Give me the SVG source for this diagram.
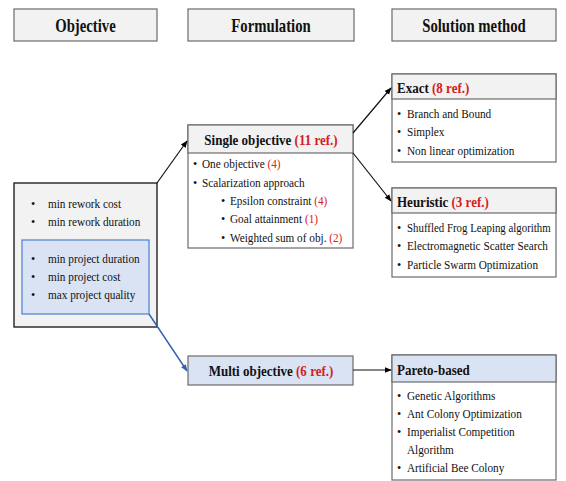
<svg xmlns="http://www.w3.org/2000/svg" width="566" height="481" viewBox="0 0 566 481">
<defs>
<marker id="ah" viewBox="0 0 10 10" refX="9" refY="5" markerWidth="6" markerHeight="6" orient="auto"><path d="M0,1 L10,5 L0,9 z" fill="#000"/></marker>
<marker id="ahb" viewBox="0 0 10 10" refX="9" refY="5" markerWidth="5" markerHeight="5" orient="auto"><path d="M0,1 L10,5 L0,9 z" fill="#2f5fae"/></marker>
<style>
text{font-family:"Liberation Serif","Times New Roman",serif;fill:#111}
.hd{font-size:18px;font-weight:bold;text-anchor:middle}
.bt{font-size:15.5px;font-weight:bold}
.tx{font-size:12.5px}
.bu{font-size:12px}
.r{fill:#d42020}
.hbox{fill:#f2f2f2;stroke:#6b6b6b;stroke-width:1.2}
.box{fill:#fff;stroke:#6b6b6b;stroke-width:1.2}
.gray{fill:#f2f2f2;stroke:#6b6b6b;stroke-width:1.2}
.blue{fill:#dae3f3;stroke:#6b6b6b;stroke-width:1.2}
.con{stroke:#111;stroke-width:1.2;fill:none}
</style>
</defs>
<g id="h-objective"><rect class="hbox" x="14" y="9" width="143" height="32"/><text class="hd" transform="translate(85.5,31.5) scale(0.82,1)">Objective</text></g>
<g id="h-formulation"><rect class="hbox" x="188" y="9" width="166" height="32"/><text class="hd" transform="translate(271,31.5) scale(0.82,1)">Formulation</text></g>
<g id="h-solution"><rect class="hbox" x="392" y="9" width="164" height="32"/><text class="hd" transform="translate(474,31.5) scale(0.82,1)">Solution method</text></g>

<g id="objectives">
<rect x="14" y="183" width="143" height="144" fill="#f2f2f2" stroke="#111" stroke-width="1.3"/>
<text class="bu" x="31" y="208">•</text><text class="tx" transform="translate(48,208) scale(0.9,1)">min rework cost</text>
<text class="bu" x="31" y="226">•</text><text class="tx" transform="translate(48,226) scale(0.9,1)">min rework duration</text>
<rect x="22" y="240" width="127" height="74" fill="#dae3f3" stroke="#4a7fd0" stroke-width="1.2"/>
<text class="bu" x="31" y="263">•</text><text class="tx" transform="translate(48,263) scale(0.9,1)">min project duration</text>
<text class="bu" x="31" y="281">•</text><text class="tx" transform="translate(48,281) scale(0.9,1)">min project cost</text>
<text class="bu" x="31" y="299">•</text><text class="tx" transform="translate(48,299) scale(0.9,1)">max project quality</text>
</g>

<g id="single">
<rect class="box" x="188" y="125" width="165" height="123"/>
<rect class="gray" x="188" y="125" width="165" height="28"/>
<text class="bt" text-anchor="middle" transform="translate(271,145) scale(0.84,1)">Single objective <tspan class="r">(11 ref.)</tspan></text>
<text class="bu" x="193" y="168">•</text><text class="tx" transform="translate(202,168) scale(0.9,1)">One objective <tspan class="r">(4)</tspan></text>
<text class="bu" x="193" y="187">•</text><text class="tx" transform="translate(202,187) scale(0.9,1)">Scalarization approach</text>
<text class="bu" x="221" y="205">•</text><text class="tx" transform="translate(230,205) scale(0.9,1)">Epsilon constraint <tspan class="r">(4)</tspan></text>
<text class="bu" x="221" y="223">•</text><text class="tx" transform="translate(230,223) scale(0.9,1)">Goal attainment <tspan class="r">(1)</tspan></text>
<text class="bu" x="221" y="242">•</text><text class="tx" transform="translate(230,242) scale(0.9,1)">Weighted sum of obj. <tspan class="r">(2)</tspan></text>
</g>

<g id="exact">
<rect class="box" x="392" y="74" width="164" height="88"/>
<rect class="gray" x="392" y="74" width="164" height="25"/>
<text class="bt" transform="translate(397,92.5) scale(0.84,1)">Exact <tspan class="r">(8 ref.)</tspan></text>
<text class="bu" x="397" y="118">•</text><text class="tx" transform="translate(407,118) scale(0.9,1)">Branch and Bound</text>
<text class="bu" x="397" y="136">•</text><text class="tx" transform="translate(407,136) scale(0.9,1)">Simplex</text>
<text class="bu" x="397" y="155">•</text><text class="tx" transform="translate(407,155) scale(0.9,1)">Non linear optimization</text>
</g>

<g id="heuristic">
<rect class="box" x="392" y="188" width="164" height="89"/>
<rect class="gray" x="392" y="188" width="164" height="25"/>
<text class="bt" transform="translate(397,206.5) scale(0.84,1)">Heuristic <tspan class="r">(3 ref.)</tspan></text>
<text class="bu" x="397" y="232">•</text><text class="tx" transform="translate(407,232) scale(0.87,1)">Shuffled Frog Leaping  algorithm</text>
<text class="bu" x="397" y="250">•</text><text class="tx" transform="translate(407,250) scale(0.9,1)">Electromagnetic Scatter Search</text>
<text class="bu" x="397" y="269">•</text><text class="tx" transform="translate(407,269) scale(0.9,1)">Particle Swarm Optimization</text>
</g>

<g id="multi">
<rect class="blue" x="188" y="356" width="165" height="29"/>
<text class="bt" text-anchor="middle" transform="translate(271,376) scale(0.84,1)">Multi objective <tspan class="r">(6 ref.)</tspan></text>
</g>

<g id="pareto">
<rect class="box" x="392" y="355" width="164" height="125"/>
<rect class="blue" x="392" y="355" width="164" height="27"/>
<text class="bt" transform="translate(397,374.5) scale(0.84,1)">Pareto-based</text>
<text class="bu" x="397" y="400">•</text><text class="tx" transform="translate(407,400) scale(0.9,1)">Genetic Algorithms</text>
<text class="bu" x="397" y="418">•</text><text class="tx" transform="translate(407,418) scale(0.9,1)">Ant Colony Optimization</text>
<text class="bu" x="397" y="436">•</text><text class="tx" transform="translate(407,436) scale(0.9,1)">Imperialist Competition</text>
<text class="tx" transform="translate(407,454) scale(0.9,1)">Algorithm</text>
<text class="bu" x="397" y="472">•</text><text class="tx" transform="translate(407,472) scale(0.9,1)">Artificial Bee Colony</text>
</g>

<g id="connectors">
<line class="con" x1="157" y1="183" x2="187" y2="141" marker-end="url(#ah)"/>
<line class="con" x1="353" y1="133" x2="391" y2="88" marker-end="url(#ah)"/>
<line class="con" x1="353" y1="153" x2="391" y2="201" marker-end="url(#ah)"/>
<line stroke="#2f5fae" stroke-width="1.4" x1="149" y1="314" x2="187" y2="371" marker-end="url(#ahb)"/>
<line class="con" x1="353" y1="370" x2="391" y2="370" marker-end="url(#ah)"/>
</g>
</svg>
